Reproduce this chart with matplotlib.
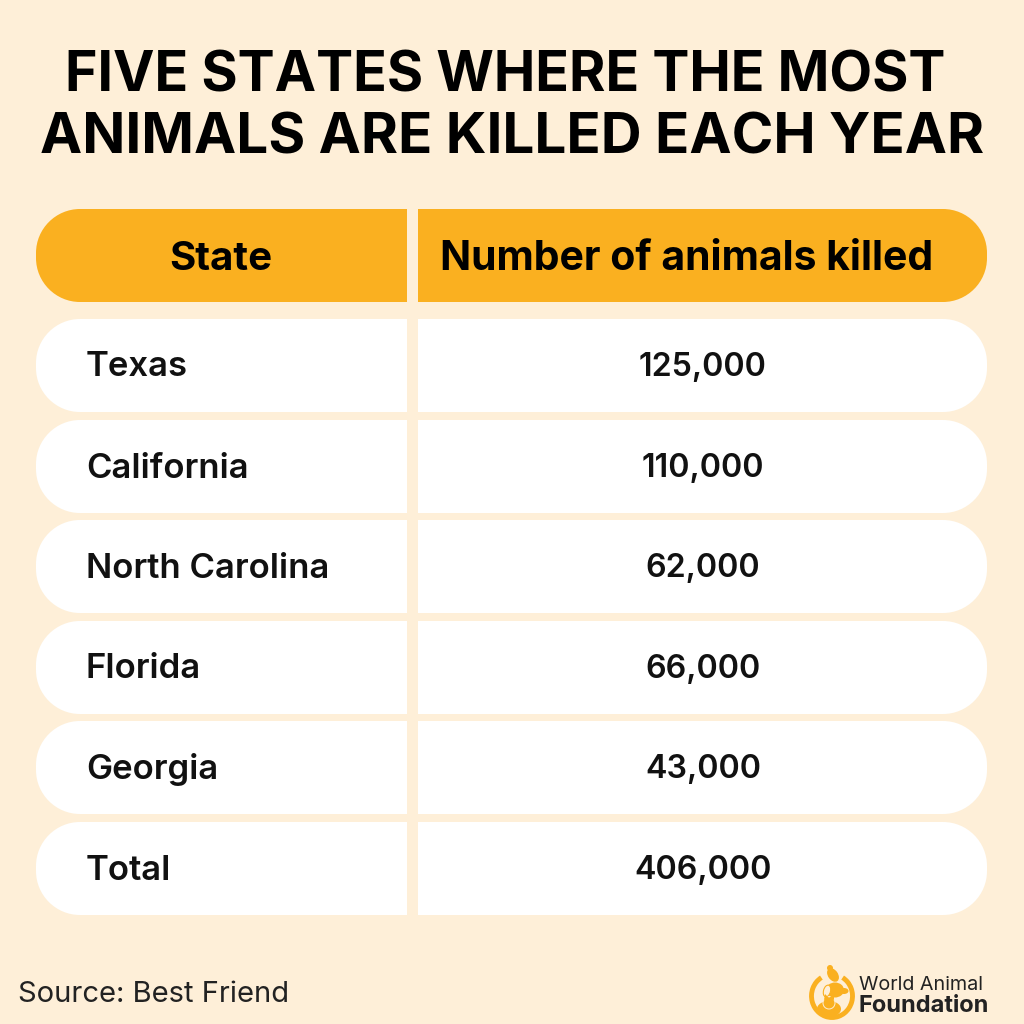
#!/usr/bin/env python3
"""Five states table infographic."""

import matplotlib

matplotlib.use("Agg")

import matplotlib.pyplot as plt
from matplotlib.patches import Arc, Circle, Ellipse, PathPatch, Polygon
from matplotlib.path import Path

TITLE_LINES = ["FIVE STATES WHERE THE MOST", "ANIMALS ARE KILLED EACH YEAR"]
HEADERS = ["State", "Number of animals killed"]
STATES = ["Texas", "California", "North Carolina", "Florida", "Georgia", "Total"]
KILLED = ["125,000", "110,000", "62,000", "66,000", "43,000", "406,000"]
SOURCE = "Source: Best Friend"
LOGO_TOP = "World Animal"
LOGO_BOTTOM = "Foundation"

BG = "#feefd8"
ORANGE = "#fab020"
FONT = "Inter"

ROW_TOPS = [319, 420, 520, 621, 721, 822]
ROW_H = 93


def half_round(ax, x0, x1, top, h, r, side, color):
    """Box with the two corners on the outer side rounded."""
    k = 0.45 * r
    y0, y1 = top, top + h
    if side == "left":
        verts = [(x1, y0), (x0 + r, y0), (x0 + k, y0), (x0, y0 + k), (x0, y0 + r),
                 (x0, y1 - r), (x0, y1 - k), (x0 + k, y1), (x0 + r, y1), (x1, y1), (x1, y0)]
    else:
        verts = [(x0, y0), (x1 - r, y0), (x1 - k, y0), (x1, y0 + k), (x1, y0 + r),
                 (x1, y1 - r), (x1, y1 - k), (x1 - k, y1), (x1 - r, y1), (x0, y1), (x0, y0)]
    codes = [Path.MOVETO, Path.LINETO, Path.CURVE4, Path.CURVE4, Path.CURVE4, Path.LINETO,
             Path.CURVE4, Path.CURVE4, Path.CURVE4, Path.LINETO, Path.CLOSEPOLY]
    ax.add_patch(PathPatch(Path(verts, codes), facecolor=color, edgecolor="none"))


def draw_row(ax, top, h, color):
    half_round(ax, 36, 407, top, h, 44, "left", color)
    half_round(ax, 418, 987, top, h, 44, "right", color)


def draw_logo(ax):
    # ring, open at the top right where the bird sits
    ax.add_patch(Arc((832, 996), 41, 43, theta1=-60, theta2=240, color=ORANGE, lw=3.5))
    # bird
    ax.add_patch(Ellipse((833, 975), 10, 15, angle=-35, facecolor=ORANGE, edgecolor="none"))
    ax.add_patch(Circle((830, 968), 3, facecolor=ORANGE, edgecolor="none"))
    # dog head
    ax.add_patch(Ellipse((835, 990), 18, 15, facecolor=ORANGE, edgecolor="none"))
    ax.add_patch(Ellipse((844, 991), 9, 6, facecolor=ORANGE, edgecolor="none"))
    ax.add_patch(Ellipse((827, 991), 7, 12, angle=15, facecolor=BG, edgecolor=ORANGE, lw=0.8))
    # cat
    ax.add_patch(Ellipse((829, 1009), 24, 16, facecolor=ORANGE, edgecolor="none"))
    ax.add_patch(Circle((829, 1003), 6, facecolor=ORANGE, edgecolor=BG, lw=0.7))
    ax.add_patch(Polygon([(824, 1000), (825, 994), (829, 998)], facecolor=ORANGE, edgecolor="none"))
    ax.add_patch(Polygon([(829, 998), (834, 994), (834, 1000)], facecolor=ORANGE, edgecolor="none"))


def main():
    fig = plt.figure(figsize=(10.24, 10.24), dpi=100, facecolor=BG)
    ax = fig.add_axes([0, 0, 1, 1])
    ax.set_xlim(0, 1024)
    ax.set_ylim(1024, 0)
    ax.axis("off")

    ax.text(505, 71, TITLE_LINES[0], ha="center", va="center_baseline", fontsize=40,
            fontweight="bold", family=FONT, color="black")
    ax.text(512, 133, TITLE_LINES[1], ha="center", va="center_baseline", fontsize=40.7,
            fontweight="bold", family=FONT, color="black")

    draw_row(ax, 209, 93, ORANGE)
    ax.text(221, 255, HEADERS[0], ha="center", va="center_baseline", fontsize=29,
            fontweight="bold", family=FONT, color="black")
    ax.text(687, 255, HEADERS[1], ha="center", va="center_baseline", fontsize=29.5,
            fontweight="bold", family=FONT, color="black")

    for top, state, killed in zip(ROW_TOPS, STATES, KILLED):
        draw_row(ax, top, ROW_H, "white")
        ax.text(86, top + 45, state, ha="left", va="center_baseline", fontsize=25,
                fontweight="semibold", family=FONT, color="#111111")
        ax.text(703, top + 45, killed, ha="center", va="center_baseline", fontsize=23.2,
                fontweight="semibold", family=FONT, color="#111111")

    ax.text(18, 992, SOURCE, ha="left", va="center_baseline", fontsize=21, family=FONT, color="#222222")

    draw_logo(ax)
    ax.text(859, 983, LOGO_TOP, ha="left", va="center_baseline", fontsize=14.2, family=FONT, color="#222222")
    ax.text(859, 1004, LOGO_BOTTOM, ha="left", va="center_baseline", fontsize=17,
            fontweight="bold", family=FONT, color="#222222")

    fig.savefig("out.png", dpi=100, facecolor=BG)
    plt.close(fig)


if __name__ == "__main__":
    main()
